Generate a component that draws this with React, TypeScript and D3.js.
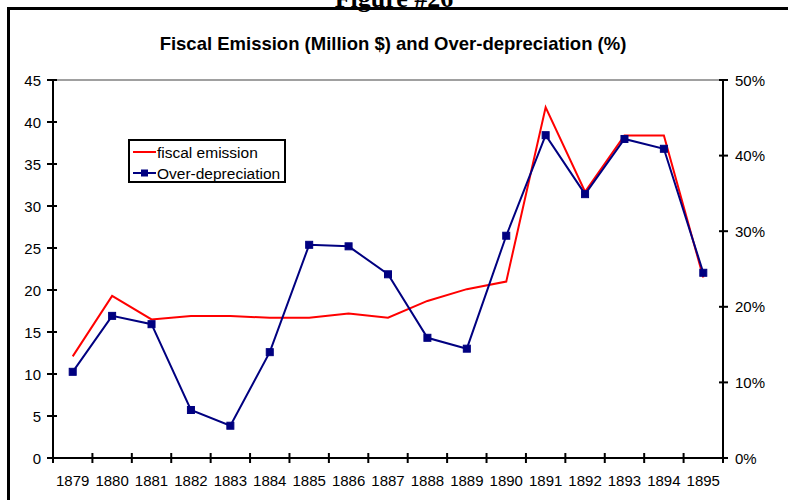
import React from "react";
import * as d3 from "d3";

const years = ["1879","1880","1881","1882","1883","1884","1885","1886","1887","1888","1889","1890","1891","1892","1893","1894","1895"];
const fiscalEmission = [12.1,19.3,16.5,16.9,16.9,16.7,16.7,17.2,16.7,18.7,20.1,21.0,41.75,31.7,38.4,38.4,21.5];
const overDepreciation = [11.4,18.8,17.7,6.35,4.27,14.0,28.2,28.0,24.3,15.9,14.46,29.4,42.7,34.9,42.2,40.9,24.5];
const leftTicks = [0,5,10,15,20,25,30,35,40,45];
const rightTicks = [0,10,20,30,40,50];

const W = 788, H = 500;
const L = 53, R = 723, T = 80, B = 458;
const FONT = "Arial, 'Liberation Sans', sans-serif";

export default function App() {
  const x = d3.scaleBand<string>().domain(years).range([L, R]).padding(0);
  const yL = d3.scaleLinear().domain([0, 45]).range([B, T]);
  const yR = d3.scaleLinear().domain([0, 50]).range([B, T]);
  const cx = (d: string) => (x(d) as number) + x.bandwidth() / 2;

  const redLine = d3.line<number>().x((_, i) => cx(years[i])).y((v) => yL(v))(fiscalEmission) as string;
  const blueLine = d3.line<number>().x((_, i) => cx(years[i])).y((v) => yR(v))(overDepreciation) as string;

  const boundaries = years.map((y) => x(y) as number).concat([R]);

  return (
    <svg width={W} height={H} style={{ position: "absolute", left: 0, top: 0, background: "#fff" }} fontFamily={FONT}>
      <rect x={0} y={0} width={W} height={H} fill="#fff" />
      <text x={394} y={7} textAnchor="middle" fontFamily="'Times New Roman', 'Liberation Serif', serif" fontWeight="bold" fontSize={26}>Figure #26</text>
      <path d={`M8.5,${H + 5} V8.5 H${W + 5}`} fill="none" stroke="#000" strokeWidth={3} />
      <text x={393} y={50} textAnchor="middle" fontWeight="bold" fontSize={18.5}>Fiscal Emission (Million $) and Over-depreciation (%)</text>

      <line x1={L} x2={R} y1={T} y2={T} stroke="#808080" strokeWidth={1.5} />

      {/* axes */}
      <line x1={L} x2={L} y1={T} y2={B} stroke="#000" strokeWidth={2} />
      <line x1={R} x2={R} y1={T} y2={B} stroke="#000" strokeWidth={2} />
      <line x1={L} x2={R} y1={B} y2={B} stroke="#000" strokeWidth={2} />

      {leftTicks.map((t) => (
        <g key={"l" + t}>
          <line x1={L - 6} x2={L + 4} y1={yL(t)} y2={yL(t)} stroke="#000" strokeWidth={2} />
          <text x={41} y={yL(t) + 5.5} textAnchor="end" fontSize={15}>{t}</text>
        </g>
      ))}
      {rightTicks.map((t) => (
        <g key={"r" + t}>
          <line x1={R - 4} x2={R + 5} y1={yR(t)} y2={yR(t)} stroke="#000" strokeWidth={2} />
          <text x={735} y={yR(t) + 5.5} textAnchor="start" fontSize={15}>{t + "%"}</text>
        </g>
      ))}
      {boundaries.map((b, i) => (
        <line key={"x" + i} x1={b} x2={b} y1={B - 5} y2={B + 5} stroke="#000" strokeWidth={2} />
      ))}
      {years.map((y) => (
        <text key={"t" + y} x={cx(y)} y={486} textAnchor="middle" fontSize={15}>{y}</text>
      ))}

      <path d={redLine} fill="none" stroke="#ff0000" strokeWidth={2} />
      <path d={blueLine} fill="none" stroke="#000080" strokeWidth={2} />
      {overDepreciation.map((v, i) => (
        <rect key={"m" + i} x={cx(years[i]) - 3.5} y={yR(v) - 3.5} width={7} height={7} fill="#000080" stroke="#000080" strokeWidth={1} />
      ))}

      {/* legend */}
      <rect x={129} y={140} width={156} height={42} fill="#fff" stroke="#000" strokeWidth={2} />
      <line x1={133} x2={156} y1={152} y2={152} stroke="#ff0000" strokeWidth={2} />
      <text x={157} y={157.5} fontSize={15.5}>fiscal emission</text>
      <line x1={133} x2={156} y1={173} y2={173} stroke="#000080" strokeWidth={2} />
      <rect x={141} y={169.5} width={7} height={7} fill="#000080" />
      <text x={157} y={178.5} fontSize={15.5}>Over-depreciation</text>
    </svg>
  );
}
